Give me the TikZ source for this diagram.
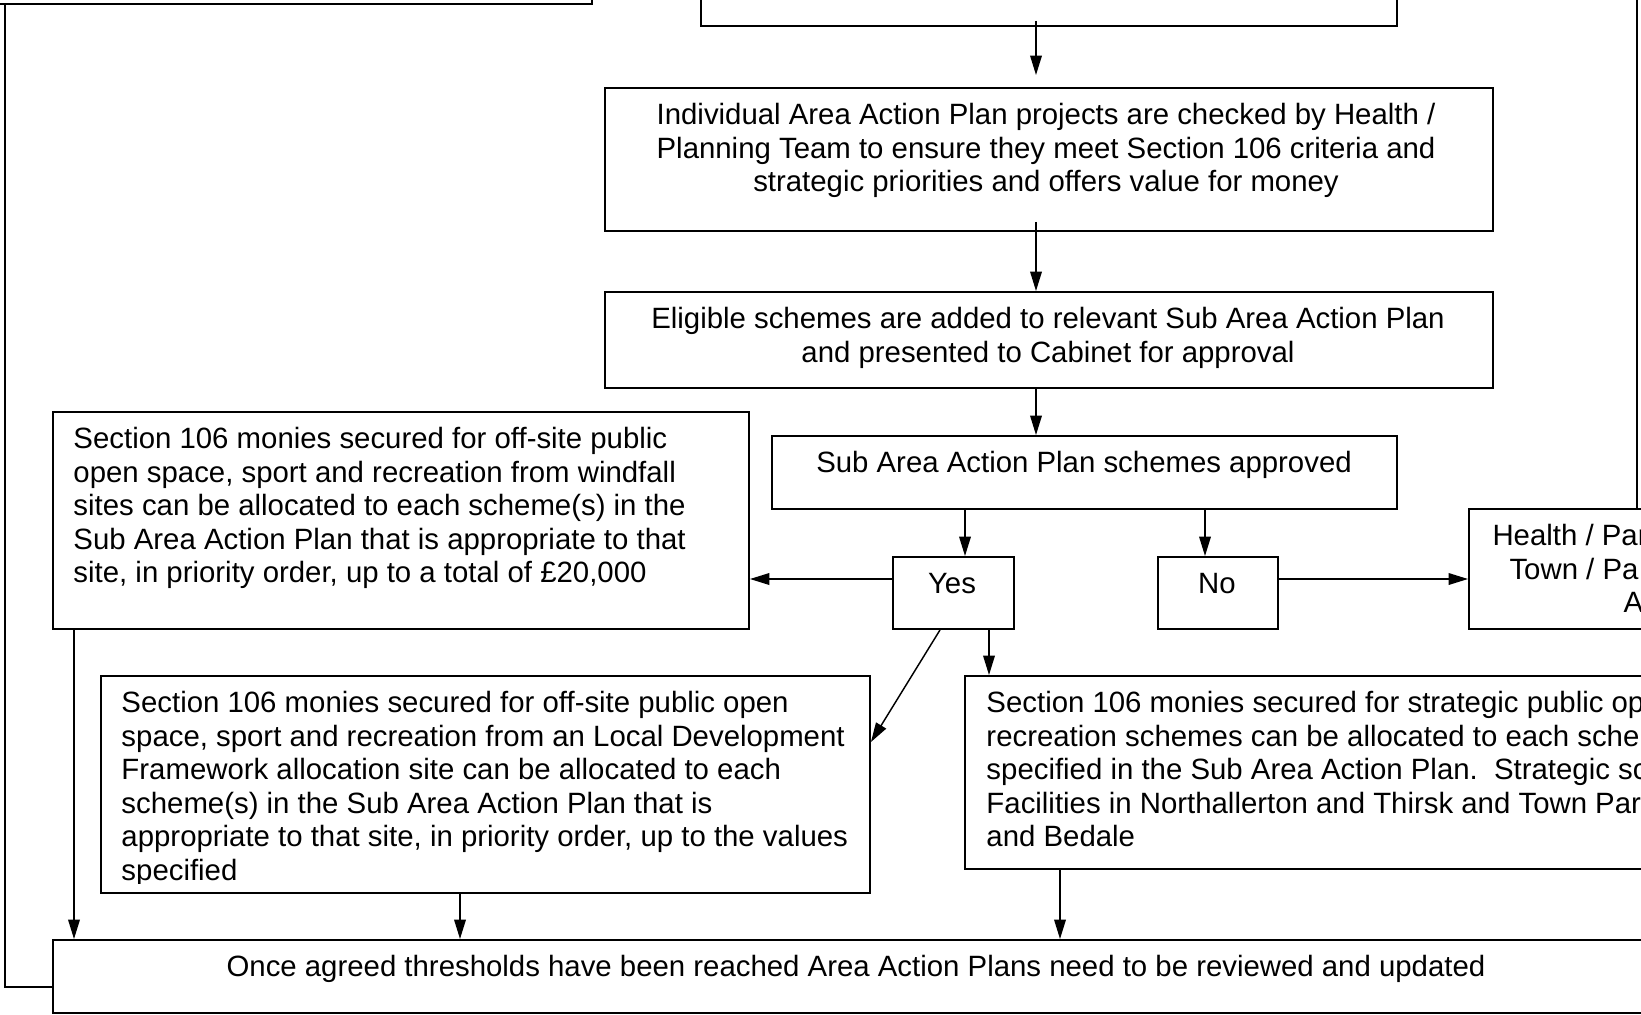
\documentclass[tikz,border=0pt]{standalone}
\usepackage{fontspec}
\setmainfont{Liberation Sans}
\usetikzlibrary{arrows.meta}
\newlength{\px}\setlength{\px}{0.412pt}
\def\txtfont{\fontsize{12.1pt}{13.8pt}\selectfont}
\tikzset{
	blk/.style={draw, line width=0.8pt, anchor=north west, inner sep=0pt},
	ctxt/.style={anchor=north, inner sep=0pt, align=center, font=\txtfont},
	ltxt/.style={anchor=north west, inner sep=0pt, align=left, font=\txtfont},
	arr/.style={line width=0.6pt, -{Triangle[length=8pt,width=4.8pt]}},
	lnk/.style={line width=0.6pt}
}

\begin{document}
\begin{tikzpicture}[x=\px, y=-\px]
		%%%%% START %%%%%
		\useasboundingbox (0,0) rectangle (1641,1014);
		\clip (0,0) rectangle (1641,1014);
		
		\node[blk, minimum width=611\px, minimum height=63\px] (tl) at (-20,-60) {};
		\node[blk, minimum width=696\px, minimum height=85\px] (tc) at (700,-60) {};
		
		\node[blk, minimum width=888\px, minimum height=143\px] (ia) at (604,87) {};
		\node[ctxt] (iat) at (1046,101) {\strut Individual Area Action Plan projects are checked by Health /\\
			Planning Team to ensure they meet Section 106 criteria and\\
			strategic priorities and offers value for money};
		
		\node[blk, minimum width=888\px, minimum height=96\px] (el) at (604,291) {};
		\node[ctxt] (elt) at (1048,305) {\strut Eligible schemes are added to relevant Sub Area Action Plan\\
			and presented to Cabinet for approval};
		
		\node[blk, minimum width=625\px, minimum height=73\px] (sa) at (771,435) {};
		\node[ctxt] (sat) at (1084,449) {\strut Sub Area Action Plan schemes approved};
		
		\node[blk, minimum width=121\px, minimum height=72\px] (yes) at (892,556) {};
		\node[ctxt] (yest) at (952,570) {\strut Yes};
		\node[blk, minimum width=120\px, minimum height=72\px] (no) at (1157,556) {};
		\node[ctxt] (not) at (1217,570) {\strut No};
		
		\node[blk, minimum width=340\px, minimum height=120\px] (hp) at (1468,508) {};
		\node[ltxt] (hpa) at (1492,522) {\strut Health / Par};
		\node[ltxt] (hpb) at (1509,555.5) {\strut Town / Pa};
		\node[ltxt] (hpc) at (1623,589) {\strut A};
		
		\node[blk, minimum width=696\px, minimum height=217\px] (wf) at (52,411) {};
		\node[ltxt] (wft) at (73,425) {\strut Section 106 monies secured for off-site public\\
			open space, sport and recreation from windfall\\
			sites can be allocated to each scheme(s) in the\\
			Sub Area Action Plan that is appropriate to that\\
			site, in priority order, up to a total of £20,000};
		
		\node[blk, minimum width=769\px, minimum height=217\px] (ldf) at (100,675) {};
		\begin{scope}
			\clip (100,675) rectangle (869,883);
			\node[ltxt] (ldft) at (121,689) {\strut Section 106 monies secured for off-site public open\\
				space, sport and recreation from an Local Development\\
				Framework allocation site can be allocated to each\\
				scheme(s) in the Sub Area Action Plan that is\\
				appropriate to that site, in priority order, up to the values\\
				specified};
		\end{scope}
		
		\node[blk, minimum width=740\px, minimum height=193\px] (st) at (964,675) {};
		\node[ltxt] (stt) at (986,689) {\strut Section 106 monies secured for strategic public op\\
			recreation schemes can be allocated to each schem\\
			specified in the Sub Area Action Plan.\ \ Strategic sc\\
			Facilities in Northallerton and Thirsk and Town Par\\
			and Bedale};
		
		\node[blk, minimum width=1608\px, minimum height=73\px] (bt) at (52,939) {};
		\node[ctxt] (btt) at (856,953) {\strut Once agreed thresholds have been reached Area Action Plans need to be reviewed and updated};
		
		% columns and rows for the links
		\coordinate (trunk) at (1036,0);
		\coordinate (yesin) at (965,0);
		\coordinate (noin) at (1205,0);
		\coordinate (stin) at (989,0);
		\coordinate (diag) at (940,0);
		\coordinate (tipy) at (0,742);
		\coordinate (yrow) at (0,579);
		\coordinate (wfout) at (74,0);
		\coordinate (ldfout) at (460,0);
		\coordinate (stout) at (1060,0);
		\coordinate (loopx) at (5,0);
		\coordinate (looprow) at (0,987);
		\coordinate (rtop) at (1637,-10);
		
		\draw[arr] ([yshift=6\px]tc.south -| trunk) -- ([yshift=12\px]ia.north -| trunk);
		\draw[arr] ([yshift=10\px]ia.south -| trunk) -- (el.north -| trunk);
		\draw[arr] (el.south -| trunk) -- (sa.north -| trunk);
		\draw[arr] (sa.south -| yesin) -- (yes.north -| yesin);
		\draw[arr] (sa.south -| noin) -- (no.north -| noin);
		\draw[arr] (yes.west |- yrow) -- (wf.east |- yrow);
		\draw[arr] (no.east |- yrow) -- (hp.west |- yrow);
		\draw[arr] (yes.south -| diag) -- (ldf.east |- tipy);
		\draw[arr] (yes.south -| stin) -- (st.north -| stin);
		\draw[arr] (wf.south -| wfout) -- (bt.north -| wfout);
		\draw[arr] (ldf.south -| ldfout) -- (bt.north -| ldfout);
		\draw[arr] (st.south -| stout) -- (bt.north -| stout);
		
		\draw[lnk] (bt.west |- looprow) -- (loopx |- looprow) -- (loopx |- tl.south);
		\draw[lnk] (hp.north -| rtop) -- (rtop);
		%%%%% END %%%%%
\end{tikzpicture}
\end{document}
